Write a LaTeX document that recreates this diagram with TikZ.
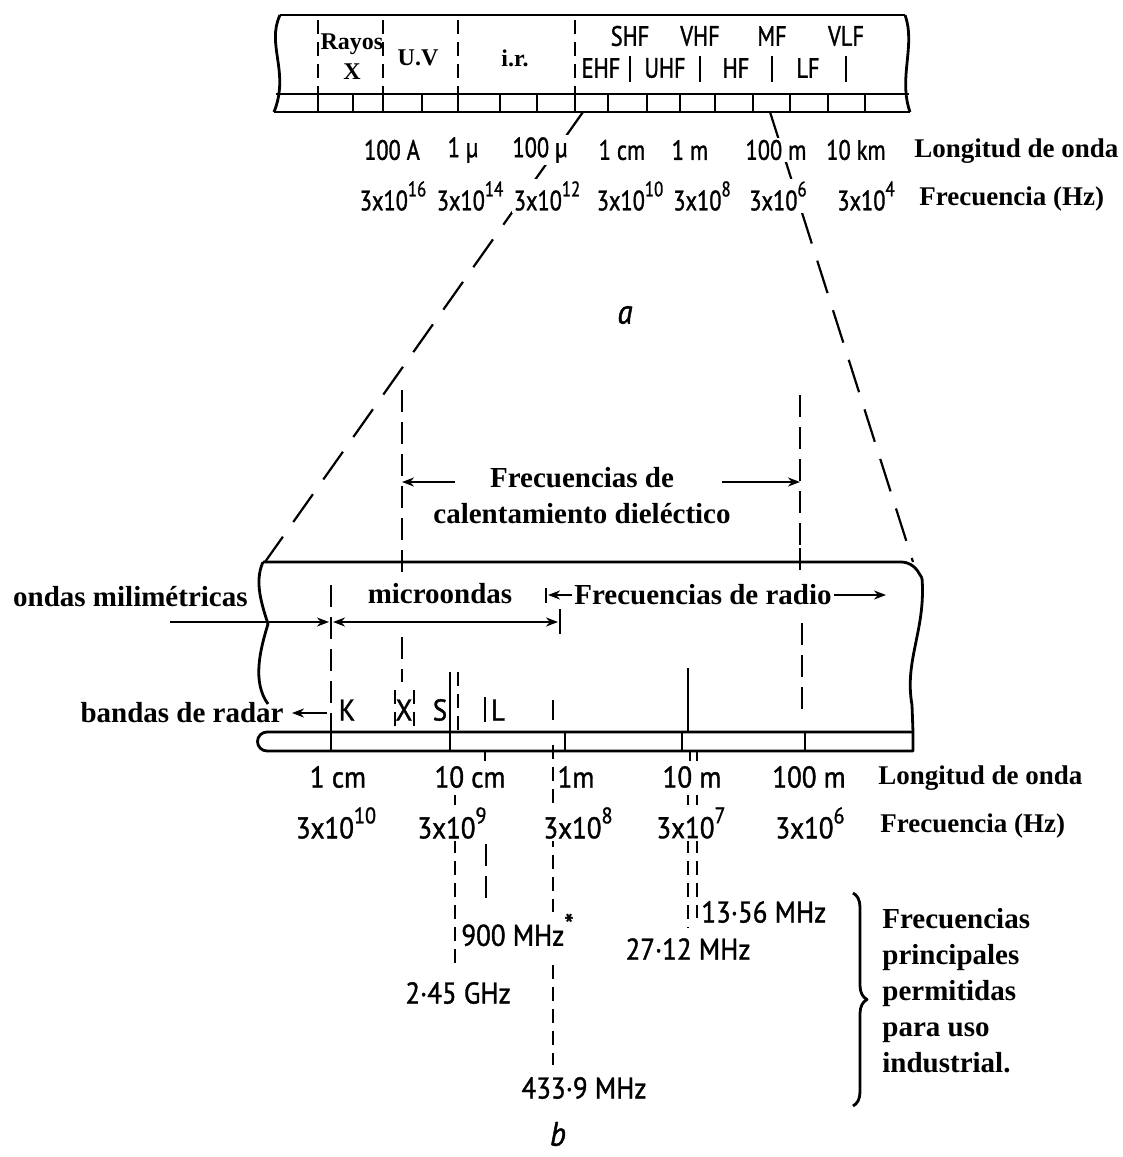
\documentclass[tikz,border=0pt]{standalone}
\usepackage{fontspec}
\setmainfont{Liberation Serif}
\newfontfamily\dinfont[FakeStretch=0.9,FakeBold=1.2]{PT Sans}
\newfontfamily\dincond[FakeStretch=0.8,FakeBold=1.2]{PT Sans}
\usetikzlibrary{arrows.meta,positioning,decorations.pathreplacing,backgrounds,calc}
\newcommand{\tpow}[1]{3x10\raisebox{0.5em}{\scalebox{0.75}{#1}}}

\begin{document}
\begin{tikzpicture}[x=0.5pt,y=-0.5pt,
  >={Stealth[length=6pt,width=4.5pt]},
  outline/.style={line width=1.4pt,line join=round},
  rule/.style={line width=1.1pt},
  guide/.style={line width=1.1pt,dash pattern=on 11pt off 5pt},
  shortguide/.style={line width=1.1pt,dash pattern=on 7pt off 4pt},
  zoomline/.style={line width=1.1pt,dash pattern=on 17pt off 9pt},
  flow/.style={->,line width=1.1pt},
  lbl/.style={font=\dincond\fontsize{14}{16}\selectfont,inner sep=1pt,fill=white},
  biglbl/.style={font=\dinfont\fontsize{15}{17}\selectfont,inner sep=1pt,fill=white},
  band/.style={font=\dincond\fontsize{14}{16}\selectfont,inner sep=1pt},
  region/.style={font=\bfseries\fontsize{12}{13}\selectfont,inner sep=1pt},
  title/.style={font=\bfseries\fontsize{13.5}{16}\selectfont,inner sep=1pt},
  head/.style={font=\bfseries\fontsize{14.5}{18}\selectfont,inner sep=1pt},
  caption/.style={font=\dinfont\itshape\fontsize{17}{19}\selectfont},
]
\useasboundingbox (0,0) rectangle (1123,1157);

% ---- (a) whole spectrum bar ---------------------------------------------
\draw[outline] (280,15) -- (905,15);
\draw[outline] (280,15) .. controls (266,45) and (290,72) .. (274,112);
\draw[outline] (905,15) .. controls (916,45) and (898,78) .. (910,112);
\draw[outline] (276,94) -- (909,94);
\draw[outline] (274,112) -- (910,112);
\foreach \x in {318,353,383,422,458,500,537,575,608,647,680,715,753,790,828,865}
  \draw[outline] (\x,94) -- (\x,112);
\foreach \x in {318,383,458,575}
  \draw[shortguide] (\x,20) -- (\x,94);
\foreach \x in {630,700,772,846}
  \draw[rule] (\x,56) -- (\x,82);

\node[region] (rayos) at (352,44) {Rayos};
\node[region] (rx)    at (352,72) {X};
\node[region] (uv)    at (418,58) {U.V};
\node[region] (ir)    at (515,58) {i.r.};
\node[band] (shf) at (630,36) {SHF};
\node[band] (vhf) at (700,36) {VHF};
\node[band] (mf)  at (772,36) {MF};
\node[band] (vlf) at (846,36) {VLF};
\node[band] (ehf) at (601,68) {EHF};
\node[band] (uhf) at (665,68) {UHF};
\node[band] (hf)  at (736,68) {HF};
\node[band] (lf)  at (808,68) {LF};

% ---- (a) wavelength / frequency scales -----------------------------------
\node[lbl] (wa1) at (392,150) {100 A};
\node[lbl] (wa2) at (463,150) {1 µ};
\node[lbl] (wa3) at (540,150) {100 µ};
\node[lbl] (wa4) at (622,150) {1 cm};
\node[lbl] (wa5) at (690,150) {1 m};
\node[lbl] (wa6) at (776,150) {100 m};
\node[lbl] (wa7) at (856,150) {10 km};
\node[title,anchor=west] (wlen-a) at (912,151) {Longitud de onda};

\node[lbl] (fa1) at (393,196) {\tpow{16}};
\node[lbl] (fa2) at (470,196) {\tpow{14}};
\node[lbl] (fa3) at (547,196) {\tpow{12}};
\node[lbl] (fa4) at (630,196) {\tpow{10}};
\node[lbl] (fa5) at (702,196) {\tpow{8}};
\node[lbl] (fa6) at (778,196) {\tpow{6}};
\node[lbl] (fa7) at (866,196) {\tpow{4}};
\node[title,anchor=west] (freq-a) at (917,199) {Frecuencia (Hz)};

\node[caption] (cap-a) at (625,315) {a};

% zoom from (a) to (b)
\coordinate (za-l) at (583,112);
\coordinate (za-r) at (770,112);
\coordinate (zb-l) at (265,562);
\coordinate (zb-r) at (913,562);
\begin{scope}[on background layer]
  \draw[zoomline] (za-l) -- (zb-l);
  \draw[zoomline] (za-r) -- (zb-r);
\end{scope}

% ---- dielectric heating range ---------------------------------------------
\coordinate (dh-l) at (402,482);
\coordinate (dh-r) at (800,482);
\draw[guide] (402,390) -- (402,548);
\draw[guide] (800,395) -- (800,548);
\node[head,align=center] (dielec) at (582,496)
  {Frecuencias de\\calentamiento dieléctico};
\draw[flow] (455,482) -- (dh-l);
\draw[flow] (722,482) -- (dh-r);

% ---- (b) enlarged band ----------------------------------------------------
\draw[outline,rounded corners=5pt] (263,562) -- (912,562) -- (922,578);
\draw[outline] (922,578) .. controls (926,630) and (904,660) .. (912,705) -- (913,732);
\draw[outline] (263,562) .. controls (254,582) and (262,605) .. (268,624)
                         .. controls (260,650) and (252,682) .. (268,704);
\draw[outline] (913,732) -- (267,732) arc(270:90:9.5) -- (913,751) -- (913,732);
\foreach \x in {331,450,565,682,805}
  \draw[outline] (\x,732) -- (\x,751);
\draw[rule] (402,550) -- (402,572);
\draw[rule] (800,548) -- (800,570);

% region arrows
\node[head,anchor=east] (mmw) at (250,597) {ondas milimétricas};
\node[head] (micro) at (440,594) {microondas};
\node[head,anchor=west] (radio) at (572,595) {Frecuencias de radio};
\coordinate (mm-in) at (329,622);
\coordinate (mw-l) at (333,622);
\coordinate (mw-r) at (558,622);
\coordinate (rf-l) at (548,595);
\coordinate (rf-r) at (886,595);
\draw[flow] (170,622) -- (mm-in);
\draw[<->,line width=1.1pt] (mw-l) -- (mw-r);
\draw[rule] (560,609) -- (560,634);
\draw[flow] (radio.west) -- (rf-l);
\draw[rule] (546,588) -- (546,603);
\draw[flow] (radio.east) -- (rf-r);

% radar bands
\draw[guide] (331,585) -- (331,732);
\draw[guide] (402,637) -- (402,682);
\draw[shortguide] (395,690) -- (395,732);
\draw[shortguide] (414,690) -- (414,732);
\draw[rule] (450,672) -- (450,732);
\draw[shortguide] (458,672) -- (458,732);
\draw[rule] (485,697) -- (485,722);
\draw[rule] (553,700) -- (553,720);
\draw[rule] (688,668) -- (688,732);
\draw[guide] (802,623) -- (802,718);
\node[head,anchor=east] (radar) at (286,713) {bandas de radar};
\coordinate (rd-k) at (327,713);
\draw[flow] (rd-k) -- ([xshift=3pt]radar.east);
\node[biglbl,fill=none] (bk) at (347,710) {K};
\node[biglbl,fill=none] (bx) at (404,710) {X};
\node[biglbl,fill=none] (bs) at (440,710) {S};
\node[biglbl,fill=none] (bl) at (498,710) {L};

% ---- (b) scales and industrial frequencies ------------------------------
\begin{scope}[on background layer]
  \draw[rule] (485,751) -- (485,761);
  \draw[rule] (690,751) -- (690,761);
  \draw[rule] (697,751) -- (697,761);
  \draw[shortguide] (553,745) -- (553,912);
  \draw[shortguide] (553,965) -- (553,1065);
  \draw[shortguide] (455,795) -- (455,970);
  \draw[guide] (486,812) -- (486,907);
  \draw[shortguide] (688,795) -- (688,928);
  \draw[shortguide] (697,795) -- (697,918);
\end{scope}

\node[biglbl] (wb1) at (338,777) {1 cm};
\node[biglbl] (wb2) at (470,777) {10 cm};
\node[biglbl] (wb3) at (576,777) {1m};
\node[biglbl] (wb4) at (692,777) {10 m};
\node[biglbl] (wb5) at (809,777) {100 m};
\node[title,anchor=west] (wlen-b) at (876,778) {Longitud de onda};

\node[biglbl] (fb1) at (336,823) {\tpow{10}};
\node[biglbl] (fb2) at (452,823) {\tpow{9}};
\node[biglbl] (fb3) at (578,823) {\tpow{8}};
\node[biglbl] (fb4) at (691,823) {\tpow{7}};
\node[biglbl] (fb5) at (810,823) {\tpow{6}};
\node[title,anchor=west] (freq-b) at (878,826) {Frecuencia (Hz)};

\node[biglbl,anchor=west] (f900) at (459,930) {900 MHz\raisebox{0.35em}{*}};
\node[biglbl] (f245) at (458,993) {2·45 GHz};
\node[biglbl] (f433) at (584,1088) {433·9 MHz};
\node[biglbl,anchor=west] (f1356) at (699,912) {13·56 MHz};
\node[biglbl] (f2712) at (688,949) {27·12 MHz};

\draw[outline,decorate,decoration={brace,amplitude=7pt}] (853,893) -- (853,1106);
\node[head,align=left,anchor=north west] (permit) at (880,906)
  {Frecuencias\\principales\\permitidas\\para uso\\industrial.};

\node[caption] (cap-b) at (558,1134) {b};

\end{tikzpicture}
\end{document}
